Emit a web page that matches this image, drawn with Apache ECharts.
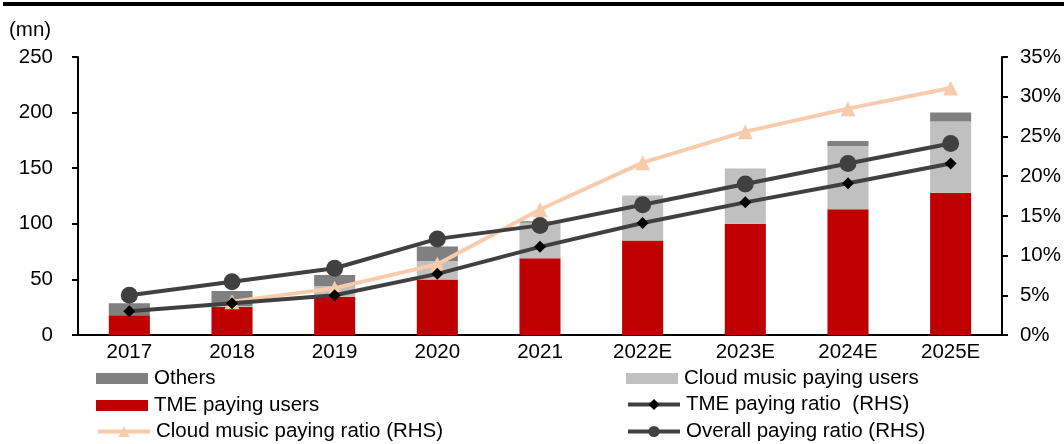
<!DOCTYPE html>
<html><head><meta charset="utf-8">
<script src="https://cdn.jsdelivr.net/npm/echarts@6/dist/echarts.min.js"></script>
<style>html,body{margin:0;padding:0;background:#fff}#c{width:1064px;height:444px}</style>
</head><body><div id="c"></div>
<script>
const categories = ['2017','2018','2019','2020','2021','2022E','2023E','2024E','2025E'];
const tmeUsers = [17.7, 25.5, 34.5, 50, 69, 85, 100, 113, 128];
const cloudUsers = [0, 0.5, 9.5, 16.5, 32, 40, 49, 57, 64];
const others = [10.8, 13.5, 10, 13, 1.2, 0.3, 0.5, 4.5, 8];
const tmeRatio = [3.0, 4.0, 5.0, 7.7, 11.1, 14.1, 16.7, 19.1, 21.6];
const cloudRatio = [null, 4.2, 5.9, 8.9, 15.8, 21.7, 25.6, 28.5, 31.1];
const overallRatio = [5.0, 6.7, 8.4, 12.1, 13.8, 16.4, 19.0, 21.6, 24.1];
const leftTicks = [0, 50, 100, 150, 200, 250];
const rightTicks = [0, 5, 10, 15, 20, 25, 30, 35];

const FONT = 'Liberation Sans, Arial, sans-serif';
const FS = 20.5;
const txt = {color:'#000', fontFamily: FONT, fontSize: FS};
const chart = echarts.init(document.getElementById('c'));
function lg(name, left, top, isBar){
  const o = {left:left, top:top, itemWidth:52, itemHeight:isBar?11:14, itemGap:0, padding:0,
    textStyle:Object.assign({}, txt, {padding:[0,0,0,1]}), selectedMode:false, data:[name]};
  if (isBar) { o.icon = 'rect'; } else { o.lineStyle = {width:4}; o.top = top - 1; }
  return o;
}
chart.setOption({
  animation:false,
  graphic:[
    {type:'rect', shape:{x:3,y:2,width:1061,height:4}, style:{fill:'#000'}},
    {type:'text', left:9, top:20, style:{text:'(mn)', font:FS+'px '+FONT, fill:'#000'}}
  ],
  grid:{left:78, right:61, top:57, bottom:109},
  legend:[
    lg('Others', 96, 368, true),
    lg('TME paying users', 96, 395, true),
    lg('Cloud music paying ratio (RHS)', 96, 422, false),
    lg('Cloud music paying users', 626, 368, true),
    lg('TME paying ratio  (RHS)', 626, 395, false),
    lg('Overall paying ratio (RHS)', 626, 422, false)
  ],
  xAxis:{type:'category', data:categories,
    axisLine:{lineStyle:{color:'#000', width:2}},
    axisTick:{lineStyle:{color:'#000', width:2}, length:6},
    axisLabel:Object.assign({}, txt, {margin:7})},
  yAxis:[
    {type:'value', min:0, max:250, interval:50,
     axisLine:{show:true, lineStyle:{color:'#000', width:2}},
     axisTick:{show:true, lineStyle:{color:'#000', width:2}, length:6},
     splitLine:{show:false},
     axisLabel:Object.assign({}, txt, {margin:25, formatter:v=>leftTicks.includes(v)?String(v):''})},
    {type:'value', min:0, max:35, interval:5,
     axisLine:{show:true, lineStyle:{color:'#000', width:2}},
     axisTick:{show:true, lineStyle:{color:'#000', width:2}, length:6},
     splitLine:{show:false},
     axisLabel:Object.assign({}, txt, {margin:18, formatter:v=>rightTicks.includes(v)?v+'%':''})}
  ],
  series:[
    {name:'TME paying users', type:'bar', stack:'u', data:tmeUsers, barWidth:'40%', itemStyle:{color:'#C00000'}},
    {name:'Cloud music paying users', type:'bar', stack:'u', data:cloudUsers, itemStyle:{color:'#C0C0C0'}},
    {name:'Others', type:'bar', stack:'u', data:others, itemStyle:{color:'#808080'}},
    {name:'Cloud music paying ratio (RHS)', type:'line', yAxisIndex:1, data:cloudRatio, symbol:'triangle', symbolSize:15,
     lineStyle:{color:'#F8CBAD', width:4}, itemStyle:{color:'#F8CBAD'}, z:3},
    {name:'TME paying ratio  (RHS)', type:'line', yAxisIndex:1, data:tmeRatio, symbol:'diamond', symbolSize:12,
     lineStyle:{color:'#404040', width:4}, itemStyle:{color:'#000'}, z:4},
    {name:'Overall paying ratio (RHS)', type:'line', yAxisIndex:1, data:overallRatio, symbol:'circle', symbolSize:17,
     lineStyle:{color:'#404040', width:4}, itemStyle:{color:'#404040'}, z:4}
  ]
});
</script></body></html>
